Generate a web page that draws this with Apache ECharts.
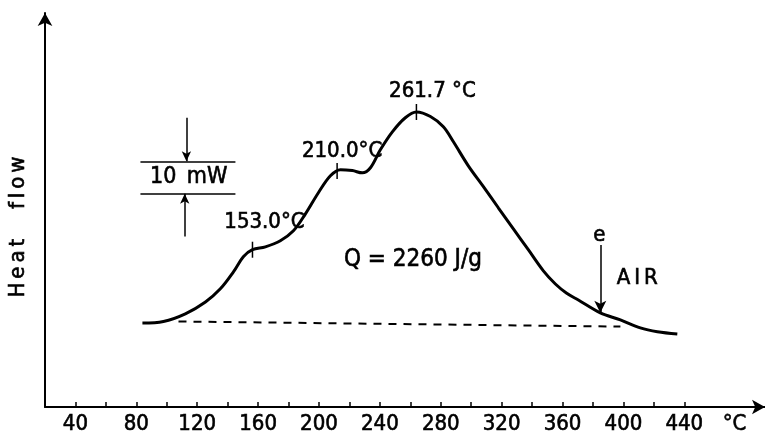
<!DOCTYPE html>
<html>
<head>
<meta charset="utf-8">
<script src="https://cdn.jsdelivr.net/npm/echarts@6.0.0/dist/echarts.min.js"></script>
<style>
html, body { margin: 0; padding: 0; background: #fff; }
#dsc { width: 765px; height: 438px; }
</style>
</head>
<body>
<div id="dsc"></div>
<script>
// DSC trace: temperature (°C) and heat flow (mW, zero = x axis)
var curveT = [84.0, 97.8, 112.2, 125.4, 135.2, 143.8, 150.3, 156.3, 164.8, 174.6,
  183.2, 191.1, 199.6, 207.5, 214.1, 221.9, 228.5, 233.8, 240.3, 248.2,
  256.7, 264.0, 273.2, 281.7, 288.3, 298.1, 308.0, 317.8, 327.7, 337.5,
  347.4, 355.3, 362.5, 370.4, 384.8, 398.0, 411.1, 422.3, 435.4];
var curveH = [26.2, 26.7, 29.1, 32.8, 36.9, 42.2, 46.9, 49.1, 50.0, 51.9,
  55.0, 60.3, 66.9, 72.2, 74.1, 73.8, 73.1, 74.7, 80.3, 85.9,
  90.3, 92.1, 90.7, 87.5, 82.8, 75.3, 68.8, 62.2, 55.6, 49.1,
  42.5, 38.4, 35.6, 33.4, 29.4, 27.2, 24.7, 23.5, 22.8];

// dashed baseline
var baseT = [107.7, 398.0];
var baseH = [26.7, 25.1];

// marked peaks (where the little ticks sit) and their labels
var peakT = [156.3, 211.9, 264.0];
var peakH = [49.1, 73.7, 92.1];
var peakLabels = ["153.0°C", "210.0°C", "261.7 °C"];

// x axis ticks / labels
var xTicks = [40, 60, 80, 100, 120, 140, 160, 180, 200, 220, 240, 260, 280, 300, 320, 340, 360, 380, 400, 420, 440];
var xLabels = [40, 80, 120, 160, 200, 240, 280, 320, 360, 400, 440];
var xUnitAt = 473;

// 10 mW scale bar (two lines + arrows) and end-point arrow "e"
var scaleT = [82.7, 145.1];
var scaleH = [76.7, 66.6];
var endT = 384.8;
var endH = [50.6, 29.4];

var font = "'DejaVu Sans Condensed', 'DejaVu Sans', sans-serif";
var ink = "#000";
// old plotter lettering is a bit heavier than the regular face
var heavy = { textBorderColor: ink, textBorderWidth: 0.6 };

var curve = curveT.map(function (t, i) { return [t, curveH[i]]; });
var base = baseT.map(function (t, i) { return [t, baseH[i]]; });
var peaks = peakT.map(function (t, i) { return [t, peakH[i]]; });
var peakOffsets = [[12, -27], [5, -20], [16, -21]];

var chart = echarts.init(document.getElementById("dsc"));
chart.setOption({
  animation: false,
  backgroundColor: "#fff",
  textStyle: { fontFamily: font, color: ink },
  grid: { left: 45, right: 0, top: 13, bottom: 31, outerBoundsMode: "none" },
  xAxis: {
    type: "value",
    min: 20,
    max: 493,
    splitLine: { show: false },
    axisLine: {
      lineStyle: { color: ink, width: 2 },
      symbol: ["none", "arrow"],
      symbolSize: [11, 13]
    },
    axisTick: { customValues: xTicks, inside: true, length: 5, lineStyle: { color: ink, width: 1.5 } },
    axisLabel: Object.assign({
      customValues: xLabels.concat([xUnitAt]),
      formatter: function (v) { return v === xUnitAt ? "°C" : String(v); },
      color: ink,
      fontSize: 22,
      margin: 6,
      fontFamily: font
    }, heavy)
  },
  yAxis: {
    type: "value",
    min: 0,
    max: 123,
    splitLine: { show: false },
    axisTick: { show: false },
    axisLabel: { show: false },
    axisLine: {
      lineStyle: { color: ink, width: 2 },
      symbol: ["none", "arrow"],
      symbolSize: [11, 13]
    },
    name: "H\u2009e\u2009a\u2009t\u2003\u2002f\u2009l\u2009o\u2009w",
    nameLocation: "middle",
    nameRotate: 90,
    nameGap: 16,
    nameTextStyle: Object.assign({ fontSize: 22, color: ink, fontFamily: font, padding: [0, 34, 0, 0] }, heavy)
  },
  series: [
    {
      name: "DSC",
      type: "line",
      data: curve,
      smooth: 0.35,
      showSymbol: false,
      lineStyle: { color: ink, width: 3 }
    },
    {
      name: "baseline",
      type: "line",
      data: base,
      showSymbol: false,
      lineStyle: { color: ink, width: 2, type: [8, 7] },
      markLine: {
        silent: true,
        symbol: "none",
        lineStyle: { color: ink, width: 1.5, type: "solid" },
        label: { show: false },
        data: [
          [{ coord: [scaleT[0], scaleH[0]] }, { coord: [scaleT[1], scaleH[0]] }],
          [{ coord: [scaleT[0], scaleH[1]] }, { coord: [scaleT[1], scaleH[1]] }],
          [{ coord: [112.9, 90.3], symbol: "none" }, { coord: [112.9, scaleH[0]], symbol: "arrow", symbolSize: [7, 10] }],
          [{ coord: [111.8, 53.2], symbol: "none" }, { coord: [111.8, scaleH[1]], symbol: "arrow", symbolSize: [7, 10] }],
          [{ coord: [endT, endH[0]], symbol: "none" }, { coord: [endT, endH[1]], symbol: "arrow", symbolSize: [9, 12] }]
        ]
      },
      markPoint: {
        silent: true,
        symbolSize: 0,
        itemStyle: { opacity: 1 },
        label: Object.assign({ show: true, color: ink, fontSize: 22, fontFamily: font, position: "inside" }, heavy),
        data: [
          { coord: [114.4, 71.75], value: "10 mW", label: { formatter: "10\u2002mW", fontSize: 23 } },
          { coord: [261.7, 45.9], value: "Q", label: { formatter: "Q = 2260 J/g", fontSize: 24 } },
          { coord: [409.1, 40.3], value: "AIR", label: { formatter: "A\u2009I\u2009R" } },
          { coord: [384.2, 53.75], value: "e", label: { formatter: "e" } }
        ]
      }
    },
    {
      name: "peaks",
      type: "scatter",
      symbol: "rect",
      symbolSize: [1.5, 16],
      itemStyle: { color: ink, opacity: 1 },
      data: peaks.map(function (p, i) {
        return {
          value: p,
          label: Object.assign({
            show: true,
            position: "inside",
            offset: peakOffsets[i],
            formatter: peakLabels[i],
            color: ink,
            fontSize: 22,
            fontFamily: font
          }, heavy)
        };
      })
    }
  ]
});
</script>
</body>
</html>
